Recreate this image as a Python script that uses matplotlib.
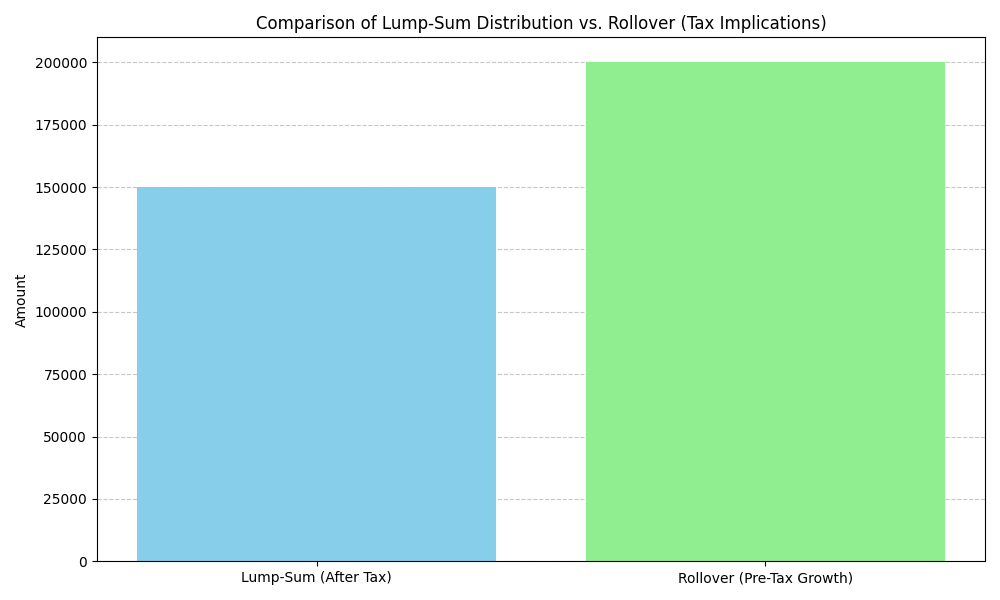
import matplotlib
matplotlib.use("Agg")
import matplotlib.pyplot as plt

categories = ["Lump-Sum (After Tax)", "Rollover (Pre-Tax Growth)"]
amounts = [150000, 200000]
colors = ["skyblue", "lightgreen"]

fig, ax = plt.subplots(figsize=(10, 6))
ax.bar(categories, amounts, color=colors, zorder=2)
ax.set_title("Comparison of Lump-Sum Distribution vs. Rollover (Tax Implications)")
ax.set_ylabel("Amount")
ax.grid(axis="y", linestyle="--", alpha=0.7, zorder=0)
plt.tight_layout()
plt.savefig("out.png", dpi=100)
